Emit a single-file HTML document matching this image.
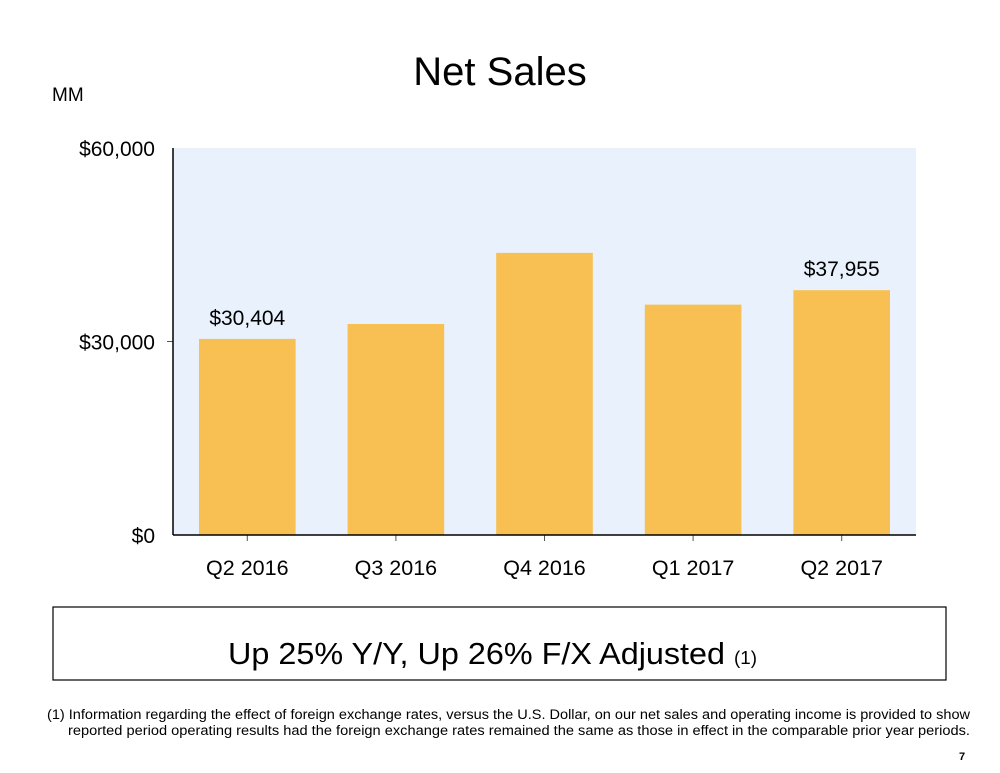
<!DOCTYPE html>
<html><head><meta charset="utf-8"><style>
body{margin:0;background:#fff;font-family:"Liberation Sans",Arial,sans-serif}
#wrap{position:relative;width:1000px;height:773px;overflow:hidden}
</style></head><body>
<div id="wrap">
<svg width="1000" height="773">
<text x="500" y="85" font-size="40" text-anchor="middle" fill="#000">Net Sales</text>
<text x="52" y="101" font-size="19" fill="#000">MM</text>
<g id="plot"></g>
<rect x="53" y="607" width="893" height="73" fill="#fff" stroke="#000" stroke-width="1.2"/>
<text x="228" y="664" font-size="31" textLength="529" lengthAdjust="spacingAndGlyphs">Up 25% Y/Y, Up 26% F/X Adjusted <tspan font-size="18">(1)</tspan></text>
<text x="47" y="719" font-size="13.5" textLength="923" lengthAdjust="spacingAndGlyphs">(1) Information regarding the effect of foreign exchange rates, versus the U.S. Dollar, on our net sales and operating income is provided to show</text>
<text x="68" y="735" font-size="13.5" textLength="902" lengthAdjust="spacingAndGlyphs">reported period operating results had the foreign exchange rates remained the same as those in effect in the comparable prior year periods.</text>
<text x="959" y="760" font-size="11" font-weight="bold">7</text>
</svg>
</div>
<script>
const categories=["Q2 2016","Q3 2016","Q4 2016","Q1 2017","Q2 2017"];
const values=[30404,32714,43741,35714,37955];
const valueLabels=["$30,404","","","","$37,955"];
const yTicks=[0,30000,60000];
const yTickLabels=["$0","$30,000","$60,000"];
const L=173,R=916,T=148,B=535,yMax=60000;
const band=(R-L)/categories.length;
const y=v=>B-(v/yMax)*(B-T);
const xc=i=>L+band*(i+0.5);
const g=document.getElementById('plot');
const NS="http://www.w3.org/2000/svg";
function mk(t,a){const e=document.createElementNS(NS,t);for(const k in a)e.setAttribute(k,a[k]);g.appendChild(e);return e;}
let bg=mk('rect',{x:L,y:T,width:R-L,height:B-T,fill:'#e8f1fc'});


values.forEach((v,i)=>{
 const w=band*0.65;
 const r=mk('rect',{x:xc(i)-w/2,y:y(v),width:w,height:B-y(v),fill:'#f8bf52'});
 
 
 if(valueLabels[i]){
  const t=mk('text',{x:xc(i),y:y(v)-14,'font-size':21,'text-anchor':'middle'});
  t.textContent=valueLabels[i];
  
  
 }
 const tk=mk('line',{x1:xc(i),x2:xc(i),y1:B,y2:B+6,stroke:'#555'});
 
 
 const xl=mk('text',{x:xc(i),y:B+40,'font-size':21.5,'text-anchor':'middle'});
 xl.textContent=categories[i];
 
 
});
yTicks.forEach((v,i)=>{
 const yl=mk('text',{x:155,y:y(v)+8,'font-size':21,'text-anchor':'end'});
 yl.textContent=yTickLabels[i];
 
 
 if(v>0&&v<yMax){const tk=mk('line',{x1:L-6,x2:L,y1:y(v),y2:y(v),stroke:'#555'});
 
 }
});
const ya=mk('line',{x1:L,x2:L,y1:T,y2:B,stroke:'#000','stroke-width':1.5});


const xa=mk('line',{x1:L,x2:R,y1:B,y2:B,stroke:'#000','stroke-width':1.5});


</script>
</body></html>
